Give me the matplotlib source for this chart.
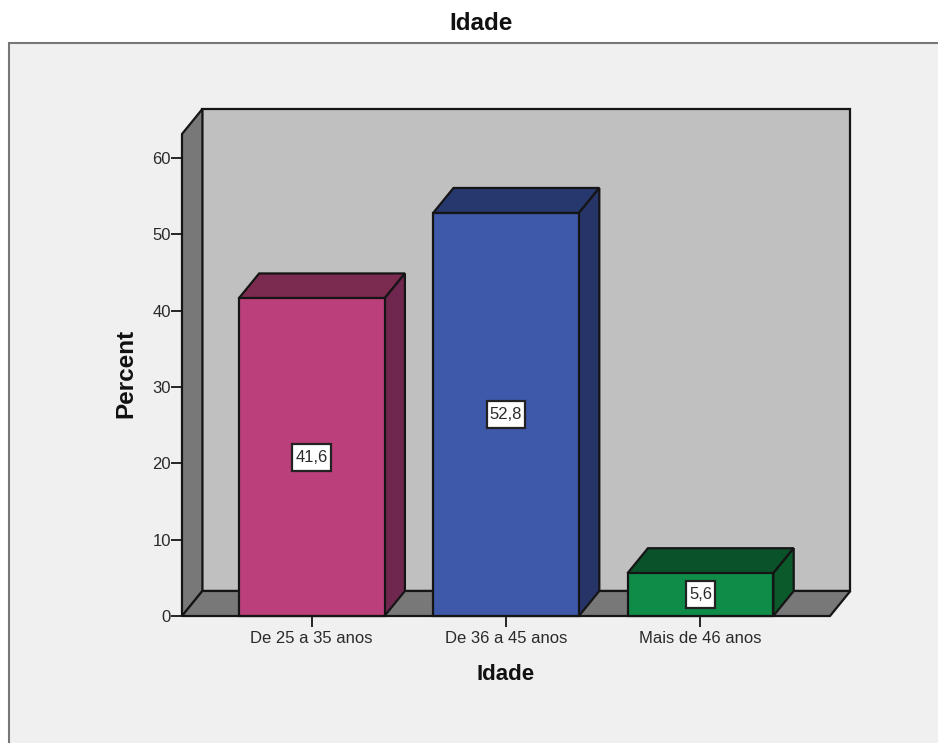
import matplotlib
matplotlib.use('Agg')
import matplotlib.pyplot as plt
from matplotlib.patches import Rectangle

plt.rcParams['font.family'] = ['Liberation Sans', 'DejaVu Sans']

categories = ['De 25 a 35 anos', 'De 36 a 45 anos', 'Mais de 46 anos']
percent = [41.6, 52.8, 5.6]
labels = ['41,6', '52,8', '5,6']
yticks = [0, 10, 20, 30, 40, 50, 60]

front_colors = ['#bb3f7b', '#3e58aa', '#0f8c48']
top_colors = ['#7b2a50', '#27386f', '#0a5229']
side_colors = ['#6f2750', '#263468', '#0a5a2c']

W, H = 938, 743
bar_w = 0.75
dx, dy = 0.105, 3.28   # depth of the fake 3d box
x0, x1 = -2 / 3, 2 + 2 / 3
ytop = 63.15
edge = '#151515'
text_c = '#2a2a2a'

fig = plt.figure(figsize=(W / 100, H / 100), dpi=100, facecolor='white')
# panel has to sit under the axes
fig.add_artist(Rectangle((9 / W, -0.01), 1, 1 - 43 / H + 0.01, transform=fig.transFigure,
                         facecolor='#f0f0f0', edgecolor='#777777', lw=1.5, zorder=-1))
fig.text(481 / W, 1 - 24 / H, 'Idade', ha='center', va='center', fontsize=17.5,
         fontweight='bold', color='#111111')

ax = fig.add_axes([182 / W, 1 - 616 / H, (830 - 182) / W, (616 - 134) / H])
ax.patch.set_visible(False)
ax.set_xlim(x0, x1)
ax.set_ylim(0, ytop)
for s in ax.spines.values():
    s.set_visible(False)

# walls and floor
ax.fill([x0 + dx, x1 + dx, x1 + dx, x0 + dx], [dy, dy, ytop + dy, ytop + dy],
        fc='#c0c0c0', ec=edge, lw=1.6, clip_on=False, zorder=1)
ax.fill([x0, x0 + dx, x0 + dx, x0], [0, dy, ytop + dy, ytop],
        fc='#787878', ec=edge, lw=1.6, clip_on=False, zorder=1.1)
ax.fill([x0, x1, x1 + dx, x0 + dx], [0, 0, dy, dy],
        fc='#787878', ec=edge, lw=1.6, clip_on=False, zorder=1.1)

# bars
for i, v in enumerate(percent):
    l, r = i - bar_w / 2, i + bar_w / 2
    ax.fill([l, r, r + dx, l + dx], [v, v, v + dy, v + dy],
            fc=top_colors[i], ec=edge, lw=1.6, clip_on=False, zorder=3)
    ax.fill([r, r + dx, r + dx, r], [0, dy, v + dy, v],
            fc=side_colors[i], ec=edge, lw=1.6, clip_on=False, zorder=3)
    ax.fill([l, r, r, l], [0, 0, v, v],
            fc=front_colors[i], ec=edge, lw=1.6, clip_on=False, zorder=3.1)
    # value box is wider than tall padding allows, so drawn separately from the text
    box_w = 0.05 * len(labels[i])
    box_h = 3.6
    ax.add_patch(Rectangle((i - box_w / 2, v / 2 - box_h / 2), box_w, box_h,
                           fc='white', ec='#222222', lw=1.6, zorder=4))
    ax.text(i, v / 2, labels[i], ha='center', va='center', fontsize=12, color=text_c, zorder=5)

ax.set_xticks(range(len(categories)))
ax.set_xticklabels(categories, fontsize=12, color=text_c)
ax.set_yticks(yticks)
ax.tick_params(axis='y', length=8, width=1.3, color=edge, labelsize=12, labelcolor=text_c, pad=0)
ax.tick_params(axis='x', length=8, width=1.3, color=edge, pad=3)
ax.set_xlabel('Idade', fontsize=16, fontweight='bold', color='#111111', labelpad=13)
ax.set_ylabel('Percent', fontsize=17.5, fontweight='bold', color='#111111', labelpad=10.7, y=0.503)

fig.savefig('out.png', dpi=100)
